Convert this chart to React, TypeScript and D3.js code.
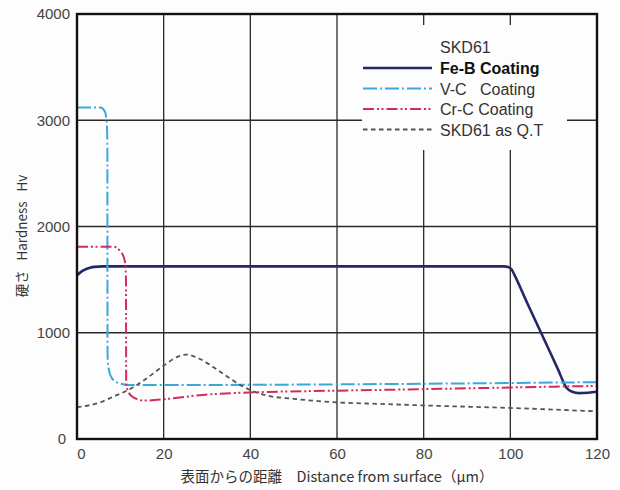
import React, { useRef, useEffect } from 'react';
import * as d3 from 'd3';

// Hardness profiles (distance in µm, hardness in Hv)
const feBDist = [0, 1, 2, 3, 4, 6, 98.5, 99.5, 100.3, 101, 104, 108, 111, 113, 114.3, 115.8, 118, 120];
const feBHard = [1540, 1575, 1598, 1612, 1620, 1625, 1625, 1618, 1595, 1540, 1270, 920, 655, 480, 445, 432, 436, 445];

const vcDist = [0, 5.4, 6.4, 6.85, 7.0, 7.05, 7.3, 8.0, 9.5, 12, 40, 80, 120];
const vcHard = [3120, 3120, 3085, 2990, 2800, 800, 660, 575, 528, 508, 510, 520, 535];

const crcDist = [0, 8.5, 9.8, 10.8, 11.2, 11.3, 11.35, 11.9, 13, 15.5, 21, 29, 37, 44, 60, 84, 100, 120];
const crcHard = [1810, 1810, 1775, 1710, 1620, 1500, 520, 440, 392, 362, 378, 415, 434, 443, 455, 472, 485, 500];

const qtDist = [0, 5, 9, 11.5, 15, 20, 23, 25.2, 28, 32.8, 38, 43.7, 50, 60, 70, 84, 100, 120];
const qtHard = [300, 340, 410, 455, 540, 690, 770, 795, 760, 640, 500, 410, 378, 345, 330, 311, 292, 260];

const xTicks = [0, 20, 40, 60, 80, 100, 120];
const yTicks = [0, 1000, 2000, 3000, 4000];

const legendTitle = 'SKD61';
const series = [
  { name: 'Fe-B Coating', dist: feBDist, hard: feBHard, color: '#262866', width: 2.6, dash: null, bold: true },
  { name: 'V-C   Coating', dist: vcDist, hard: vcHard, color: '#3ba8dc', width: 2, dash: '14,3,2,3', bold: false },
  { name: 'Cr-C Coating', dist: crcDist, hard: crcHard, color: '#d42a5c', width: 2, dash: '11,3,2,2.5,2,3', bold: false },
  { name: 'SKD61 as Q.T', dist: qtDist, hard: qtHard, color: '#555555', width: 1.8, dash: '4.5,3.5', bold: false },
];

const width = 620;
const height = 490;
const font = '"Liberation Sans", Arial, sans-serif';
const jpFont = '"Noto Sans CJK JP", "Liberation Sans", sans-serif';

const App = () => {
  const ref = useRef<SVGSVGElement>(null);

  useEffect(() => {
    const svg = d3.select(ref.current);
    svg.selectAll('*').remove();

    const left = 77, right = 597, top = 14, bottom = 439;
    const x = d3.scaleLinear().domain([0, 120]).range([left, right]);
    const y = d3.scaleLinear().domain([0, 4000]).range([bottom, top]);

    svg.append('rect').attr('width', width).attr('height', height).attr('fill', '#fdfdfd');

    // grid
    const grid = svg.append('g').attr('stroke', '#2a2a2a').attr('stroke-width', 1.3);
    xTicks.slice(1, -1).forEach(t => {
      grid.append('line').attr('x1', x(t)).attr('x2', x(t)).attr('y1', top).attr('y2', bottom);
    });
    yTicks.slice(1, -1).forEach(t => {
      grid.append('line').attr('x1', left).attr('x2', right).attr('y1', y(t)).attr('y2', y(t));
    });

    // legend background hides the grid behind it
    svg.append('rect')
      .attr('x', 362).attr('y', 25).attr('width', 205).attr('height', 125)
      .attr('fill', '#fdfdfd');

    // curves
    series.forEach(s => {
      const pts = s.dist.map((d, i) => [d, s.hard[i]] as [number, number]);
      const line = d3.line<[number, number]>()
        .x(d => x(d[0]))
        .y(d => y(d[1]))
        .curve(d3.curveMonotoneX);
      svg.append('path')
        .datum(pts)
        .attr('fill', 'none')
        .attr('stroke', s.color)
        .attr('stroke-width', s.width)
        .attr('stroke-dasharray', s.dash)
        .attr('stroke-linejoin', 'round')
        .attr('d', line);
    });

    // frame
    svg.append('rect')
      .attr('x', left).attr('y', top)
      .attr('width', right - left).attr('height', bottom - top)
      .attr('fill', 'none').attr('stroke', '#111').attr('stroke-width', 2.4);

    // axes labels
    const xAxis = svg.append('g')
      .attr('transform', `translate(0,${bottom})`)
      .call(d3.axisBottom(x).tickValues(xTicks).tickSize(0).tickPadding(9).tickFormat(d3.format('d')));
    xAxis.select('.domain').remove();
    xAxis.selectAll('text')
      .attr('font-family', font).attr('font-size', 15).attr('fill', '#444')
      .attr('dx', (d: any) => (d === 0 ? 4 : 0));

    const yAxis = svg.append('g')
      .attr('transform', `translate(${left},0)`)
      .call(d3.axisLeft(y).tickValues(yTicks).tickSize(0).tickPadding(7).tickFormat(d3.format('d')));
    yAxis.select('.domain').remove();
    yAxis.selectAll('text')
      .attr('font-family', font).attr('font-size', 15).attr('fill', '#444')
      .attr('dx', (d: any) => (d === 0 ? -4 : 0));

    svg.append('text')
      .attr('x', 337).attr('y', 482)
      .attr('text-anchor', 'middle')
      .attr('font-size', 14.5).attr('fill', '#333')
      .attr('font-family', jpFont)
      .text('表面からの距離\u2003Distance from surface（μm）');

    svg.append('text')
      .attr('transform', 'translate(27,236) rotate(-90)')
      .attr('text-anchor', 'middle')
      .attr('font-size', 13.5).attr('fill', '#333')
      .attr('font-family', jpFont)
      .text('硬さ\u2002 Hardness\u2002 Hv');

    // legend
    const lg = svg.append('g');
    lg.append('text')
      .attr('x', 440).attr('y', 53)
      .attr('font-family', font).attr('font-size', 16).attr('fill', '#333')
      .text(legendTitle);
    series.forEach((s, i) => {
      const ly = 68 + i * 20.5;
      lg.append('line')
        .attr('x1', 363).attr('x2', 432).attr('y1', ly).attr('y2', ly)
        .attr('stroke', s.color).attr('stroke-width', s.width)
        .attr('stroke-dasharray', s.dash);
      lg.append('text')
        .attr('x', 440).attr('y', ly + 6)
        .attr('font-family', font).attr('font-size', 16)
        .attr('font-weight', s.bold ? 'bold' : 'normal')
        .attr('fill', s.bold ? '#111' : '#333')
        .style('white-space', 'pre')
        .text(s.name);
    });
  }, []);

  return (
    <svg
      ref={ref}
      width={width}
      height={height}
      style={{ position: 'absolute', left: 0, top: 0 }}
    />
  );
};

export default App;
